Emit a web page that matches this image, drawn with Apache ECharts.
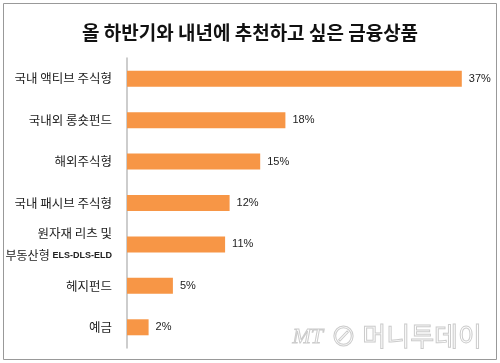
<!DOCTYPE html>
<html><head><meta charset="utf-8">
<script src="https://cdn.jsdelivr.net/npm/echarts@6/dist/echarts.min.js"></script>
<style>html,body{margin:0;padding:0;background:#fff}#c{width:500px;height:363px}</style>
</head><body><div id="c"></div>
<script>
const titleText = '올 하반기와 내년에 추천하고 싶은 금융상품';
const categories = ['국내 액티브 주식형','국내외 롱숏펀드','해외주식형','국내 패시브 주식형','원자재 리츠 및\n부동산형 ELS-DLS-ELD','헤지펀드','예금'];
const values = [37.2, 17.6, 14.8, 11.4, 10.9, 5.1, 2.4];
const valueLabels = ['37%','18%','15%','12%','11%','5%','2%'];

const chart = echarts.init(document.getElementById('c'), null, {renderer:'canvas'});
const KFONT = '"Noto Sans CJK KR","Noto Sans",sans-serif';
chart.setOption({
  animation:false,
  backgroundColor:'#fff',
  title:{text:titleText,left:'center',top:18,textStyle:{fontFamily:KFONT,fontSize:19,fontWeight:'bold',color:'#111'}},
  grid:{left:127,top:58,bottom:15,right:13,containLabel:false},
  xAxis:{type:'value',min:0,max:40,show:false},
  yAxis:{type:'category',data:categories.slice().reverse(),inverse:false,
    axisLine:{show:true,lineStyle:{color:'#bdbdbd',width:1.5}},
    axisTick:{show:false},
    axisLabel:{margin:15,fontFamily:KFONT,fontSize:12.5,color:'#222',lineHeight:22,
      formatter:function(v){
        if(v.indexOf('\n')>=0){const p=v.split('\n');const q=p[1].split(' ');return p[0]+'\n{k|'+q[0]+'} {s|'+q[1]+'}';}
        return v;
      },
      rich:{
        k:{fontSize:12,fontFamily:KFONT,color:'#222'},
        s:{fontSize:9,fontFamily:'"Liberation Sans Narrow","Liberation Sans",sans-serif',color:'#222',fontWeight:'bold'}}
    },
    splitLine:{show:false}
  },
  series:[{type:'bar',data:values.slice().reverse(),barWidth:16,
    itemStyle:{color:'#F79646'},
    label:{show:true,position:'right',distance:7,fontFamily:'"Liberation Sans",sans-serif',fontSize:11,color:'#222',
      formatter:function(p){return valueLabels[values.length-1-p.dataIndex];}}
  }],
  graphic:[
    {type:'rect',shape:{x:3.5,y:3.5,width:493,height:356},style:{fill:'none',stroke:'#999',lineWidth:1},silent:true},
    {type:'text',left:292,top:326,style:{text:'MT',font:'italic 22px "Liberation Serif",serif',fill:'none',stroke:'#ccc',lineWidth:1}},
    {type:'text',left:330,top:323,style:{text:'⊘ 머니투데이',font:'26px "Noto Sans CJK KR",sans-serif',fill:'none',stroke:'#ccc',lineWidth:1}}
  ]
});
</script></body></html>
